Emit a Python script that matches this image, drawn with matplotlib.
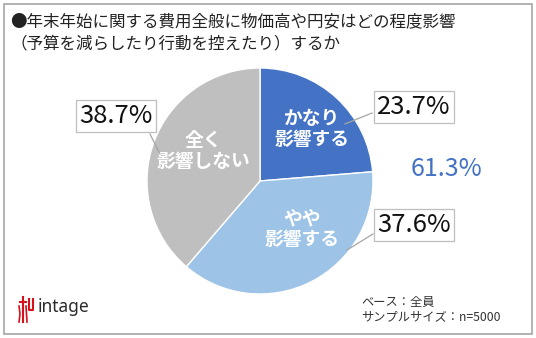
import matplotlib
matplotlib.use("Agg")
import matplotlib.pyplot as plt
from matplotlib.patches import Rectangle

plt.rcParams['font.family'] = ['Noto Sans CJK JP', 'DejaVu Sans']

# Survey shares (clockwise from 12 o'clock)
categories = ["かなり\n影響する", "やや\n影響する", "全く\n影響しない"]
values = [23.7, 37.6, 38.7]
colors = ["#4472C4", "#9DC3E6", "#BFBFBF"]
total_affected = values[0] + values[1]

title_lines = ["●年末年始に関する費用全般に物価高や円安はどの程度影響",
               "（予算を減らしたり行動を控えたり）するか"]
note_lines = ["ベース：全員", "サンプルサイズ：n=5000"]

W, H = 536, 338
fig = plt.figure(figsize=(W / 100, H / 100), dpi=100)
ax = fig.add_axes([0, 0, 1, 1])

def Y(py):
    return H - py

# pie
cx, cy, r = 260, Y(181), 113
wedges, _ = ax.pie(values, colors=colors, startangle=90, counterclock=False,
                   center=(cx, cy), radius=r, frame=True,
                   wedgeprops=dict(edgecolor="white", linewidth=1.0))
ax.set_xlim(0, W)
ax.set_ylim(0, H)
ax.set_aspect('equal')
ax.axis('off')

# outer frame
ax.add_patch(Rectangle((4, Y(334)), 528, 330, fill=False, edgecolor="#A6A6A6", lw=1.2))

# title
ax.text(10, Y(22), title_lines[0], fontsize=11.9, va='center', ha='left', color="#222222")
ax.text(10, Y(44), title_lines[1], fontsize=11.9, va='center', ha='left', color="#222222")

# inner category labels
inner_pos = [(312, 129), (302, 229), (203, 151)]
for (px, py), lab in zip(inner_pos, categories):
    ax.text(px, Y(py), lab, ha='center', va='center', color='white',
            fontsize=13.5, fontweight='bold', linespacing=1.1)

# value callouts with leader lines
box_pos = [(414, 107), (414, 225), (116, 116)]
leaders = [((372, 113), (345, 124)), ((373, 234), (347, 250)), ((150, 134), (160, 154))]
for (bx, by), (p0, p1), v in zip(box_pos, leaders, values):
    ax.plot([p0[0], p1[0]], [Y(p0[1]), Y(p1[1])], color="#A6A6A6", lw=0.9, zorder=3)
    ax.text(bx, Y(by), f"{v:.1f}%", ha='center', va='center', fontsize=18.5,
            color="#111111", zorder=4,
            bbox=dict(boxstyle='square,pad=0.12', fc='white', ec='#BFBFBF', lw=0.9))

# combined share of the two "affected" groups
ax.text(447, Y(169), f"{total_affected:.1f}%", ha='center', va='center',
        fontsize=18, color="#4472C4")

# footnotes
ax.text(361, Y(302), note_lines[0], fontsize=8.8, ha='left', va='center', color="#333333")
ax.text(361, Y(317), note_lines[1], fontsize=8.8, ha='left', va='center', color="#333333")

# brand mark
red = "#D7101C"
lx, ly = 25, 309
ax.plot([lx - 5, lx + 1], [Y(ly - 7), Y(ly - 7)], color=red, lw=1.5)
ax.plot([lx - 2, lx - 2], [Y(ly - 12), Y(ly + 13)], color=red, lw=1.5)
ax.plot([lx - 6, lx - 5, lx - 6], [Y(ly - 3), Y(ly + 5), Y(ly + 13)], color=red, lw=1.2)
ax.plot([lx + 1, lx + 2], [Y(ly - 3), Y(ly + 13)], color=red, lw=1.2)
ax.plot([lx + 4, lx + 4, lx + 8, lx + 8], [Y(ly - 10), Y(ly + 1), Y(ly + 1), Y(ly - 10)], color=red, lw=1.5)
ax.text(38, Y(307), "intage", fontsize=12.5, ha='left', va='center', color="#2B2B2B",
        fontweight='semibold', family=['Noto Sans', 'DejaVu Sans'])

fig.savefig("out.png", dpi=100)
